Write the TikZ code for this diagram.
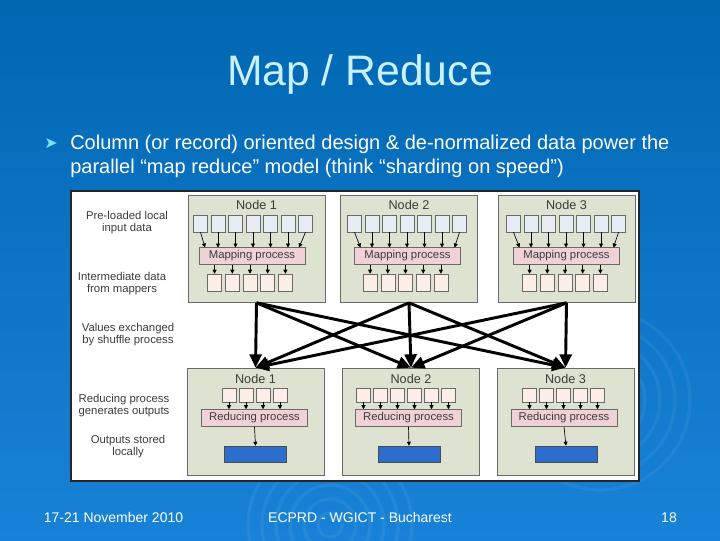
\documentclass[tikz,border=0pt]{standalone}
\usepackage{fontspec}
\setmainfont{Liberation Sans}
\newfontfamily\dingfont{DejaVu Sans}
\usetikzlibrary{arrows.meta,calc}

\definecolor{bgtop}{RGB}{0,103,177}
\definecolor{bgbottom}{RGB}{24,130,216}
\definecolor{titlecyan}{RGB}{200,240,255}
\definecolor{bulletcyan}{RGB}{120,225,235}
\definecolor{boxgreen}{RGB}{222,226,208}
\definecolor{boxline}{RGB}{105,105,105}
\definecolor{inblue}{RGB}{232,237,244}
\definecolor{midpeach}{RGB}{251,238,230}
\definecolor{procpink}{RGB}{240,210,214}
\definecolor{outblue}{RGB}{45,110,205}
\definecolor{labelgray}{RGB}{60,60,60}

\tikzset{
  nodebox/.style={draw=boxline, fill=boxgreen, line width=0.5pt, inner sep=0pt,
    minimum width=137*0.75pt, minimum height=107*0.75pt},
  inbox/.style={draw=boxline, fill=inblue, line width=0.4pt, inner sep=0pt,
    minimum width=14*0.75pt, minimum height=17*0.75pt},
  midbox/.style={inbox, fill=midpeach},
  redin/.style={inbox, fill=midpeach, minimum height=14*0.75pt},
  procbox/.style={draw=boxline, fill=procpink, line width=0.4pt, inner sep=0pt,
    minimum width=106*0.75pt, minimum height=17*0.75pt, text=labelgray,
    font=\fontsize{8.5}{9}\selectfont},
  outbox/.style={draw=black!70, fill=outblue, line width=0.4pt, inner sep=0pt,
    minimum width=62*0.75pt, minimum height=16*0.75pt},
  nodelabel/.style={text=labelgray, inner sep=0pt, font=\fontsize{9.5}{10}\selectfont},
  sidelabel/.style={text=labelgray, inner sep=0pt, align=center,
    font=\fontsize{8.5}{9}\selectfont},
  smallarrow/.style={-{Triangle[length=3pt,width=3pt]}, line width=0.5pt},
  shuffle/.style={-{Triangle[length=10pt,width=9pt]}, line width=2.2pt},
  ring/.style={draw=white, opacity=0.06, line width=2.5pt},
  slidetext/.style={text=white, inner sep=0pt},
}

\begin{document}
\begin{tikzpicture}[x=0.75pt,y=0.75pt,yscale=-1,xscale=1]
\useasboundingbox (0,0) rectangle (720,540);

%Shape: Background
\shade[top color=bgtop, bottom color=bgbottom] (0,0) rectangle (720,540);
%Shape: Rings
\foreach \r in {12,26,40,54,68,82} \draw[ring] (330,525) circle (\r);
\foreach \r in {15,30,45,60,75,90} \draw[ring] (600,400) circle (\r);

% Text Node
\node[slidetext, text=titlecyan, anchor=base, font=\fontsize{32}{38}\selectfont] (title) at (360,85) {Map / Reduce};
% Text Node
\node[slidetext, text=bulletcyan, font=\dingfont\fontsize{12}{13}\selectfont] (mark) at (51,143) {➤};
\node[slidetext, anchor=base west, font=\fontsize{15}{18}\selectfont] (line1) at (70,149) {Column (or record) oriented design \& de-normalized data power the};
\node[slidetext, anchor=base west, font=\fontsize{15}{18}\selectfont] (line2) at (70,173) {parallel “map reduce” model (think “sharding on speed”)};

%Shape: Panel
\draw[draw=black!85, fill=white, line width=1.1pt] (71,191) rectangle (639,481);

% Text Node
\node[sidelabel] (lblinput) at (127,223) {Pre-loaded local\\input data};
\node[sidelabel] (lblmid) at (122,284) {Intermediate data\\from mappers};
\node[sidelabel] (lblshuffle) at (128,335) {Values exchanged\\by shuffle process};
\node[sidelabel] (lblreduce) at (124,406) {Reducing process\\generates outputs};
\node[sidelabel] (lblout) at (128,447) {Outputs stored\\locally};

%Shape: Columns
\foreach \i/\tb/\sc/\mc/\ic/\bb/\n/\bs/\rc/\oc in
  {1/256.5/253/252/250/255.5/4/254.5/254.5/255.5,
   2/409/407/407.5/405.5/411/6/406/408.5/409,
   3/566.5/566/566.5/565/565.5/5/563.5/564/566}{
  % map side
  \node[nodebox] (map\i) at (\tb,249) {};
  \node[nodelabel] (maphead\i) at (\tb,205) {Node \i};
  \node[procbox] (mapper\i) at (\mc,256) {Mapping process};
  \foreach \k in {1,...,7}{
    \node[inbox] (in\i\k) at ({\sc+(\k-4)*17.5},223.5) {};
    \pgfmathsetmacro{\tx}{min(max(\sc+(\k-4)*17.5,\mc-47),\mc+47)}
    \coordinate (intip\i\k) at (\tx,247.5);
    \draw[smallarrow] (in\i\k.south) -- (intip\i\k);
  }
  \foreach \k in {1,...,5}{
    \node[midbox] (mid\i\k) at ({\ic+(\k-3)*17.7},282.5) {};
    \draw[smallarrow] (mid\i\k.north |- mapper\i.south) -- (mid\i\k.north);
  }
  % reduce side
  \node[nodebox] (red\i) at (\bb,421.5) {};
  \node[nodelabel] (redhead\i) at (\bb,379) {Node \i};
  \node[procbox] (reducer\i) at (\rc,418) {Reducing process};
  \node[outbox] (out\i) at (\oc,454) {};
  \draw[smallarrow] (reducer\i.south) -- (out\i.north);
  \foreach \k in {1,...,\n}{
    \node[redin] (rin\i\k) at ({\bs+(\k-(\n+1)/2)*17},395) {};
    \draw[smallarrow] (rin\i\k.south) -- (rin\i\k.south |- reducer\i.north);
  }
}

%Straight Lines: shuffle
\foreach \i in {1,2,3}
  \foreach \j in {1,2,3}
    \draw[shuffle] (map\i.south) -- (red\j.north);

% Text Node
\node[slidetext, font=\fontsize{10.5}{12}\selectfont, anchor=base] (date) at (113.5,522) {17-21 November 2010};
\node[slidetext, font=\fontsize{10.5}{12}\selectfont, anchor=base] (venue) at (360,522) {ECPRD - WGICT - Bucharest};
\node[slidetext, font=\fontsize{10.5}{12}\selectfont, anchor=base] (page) at (669,522) {18};

\end{tikzpicture}
\end{document}
